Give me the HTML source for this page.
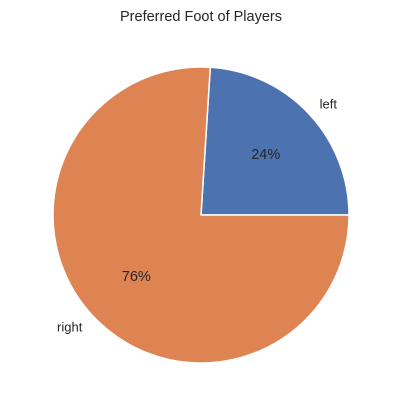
<!DOCTYPE html>
<html><head><meta charset="utf-8">
<style>
html,body{margin:0;padding:0;background:#fff;}
svg{display:block;font-family:"Liberation Sans","DejaVu Sans",sans-serif;}
</style></head>
<body>
<svg id="chart" width="401" height="416" viewBox="0 0 401 416">
<rect width="401" height="416" fill="#fff"/>
<text x="201" y="21" text-anchor="middle" font-size="14.5" fill="#262626">Preferred Foot of Players</text>
<g id="slices"></g>
</svg>
<script>
const categories = ["left", "right"];
const values = [24, 76];
const colors = ["#4c72b0", "#dd8452"];

const cx = 201, cy = 215, r = 148;
const NS = "http://www.w3.org/2000/svg";
const g = document.getElementById("slices");
const total = values.reduce((a, b) => a + b, 0);
let start = 0;
function pt(angDeg, rad) {
  const a = angDeg * Math.PI / 180;
  return [cx + rad * Math.cos(a), cy - rad * Math.sin(a)];
}
values.forEach((v, i) => {
  const sweep = v / total * 360;
  const end = start + sweep;
  const [x1, y1] = pt(start, r);
  const [x2, y2] = pt(end, r);
  const large = sweep > 180 ? 1 : 0;
  const p = document.createElementNS(NS, "path");
  p.setAttribute("d", `M${cx},${cy} L${x1},${y1} A${r},${r} 0 ${large} 0 ${x2},${y2} Z`);
  p.setAttribute("fill", colors[i]);
  p.setAttribute("stroke", "#fff");
  p.setAttribute("stroke-width", "1.5");
  p.setAttribute("stroke-linejoin", "round");
  
  
  g.appendChild(p);

  const mid = start + sweep / 2;
  const [lx, ly] = pt(mid, r * 1.1);
  const lab = document.createElementNS(NS, "text");
  lab.setAttribute("x", lx);
  lab.setAttribute("y", ly + 5);
  lab.setAttribute("text-anchor", Math.cos(mid * Math.PI / 180) >= 0 ? "start" : "end");
  lab.setAttribute("font-size", "13");
  lab.setAttribute("fill", "#262626");
  lab.textContent = categories[i];
  
  
  g.appendChild(lab);

  const [px, py] = pt(mid, r * 0.6);
  const pct = document.createElementNS(NS, "text");
  pct.setAttribute("x", px);
  pct.setAttribute("y", py + 5);
  pct.setAttribute("text-anchor", "middle");
  pct.setAttribute("font-size", "14.5");
  pct.setAttribute("fill", "#262626");
  pct.textContent = Math.round(v / total * 100) + "%";
  
  
  g.appendChild(pct);

  start = end;
});
</script>
</body></html>
